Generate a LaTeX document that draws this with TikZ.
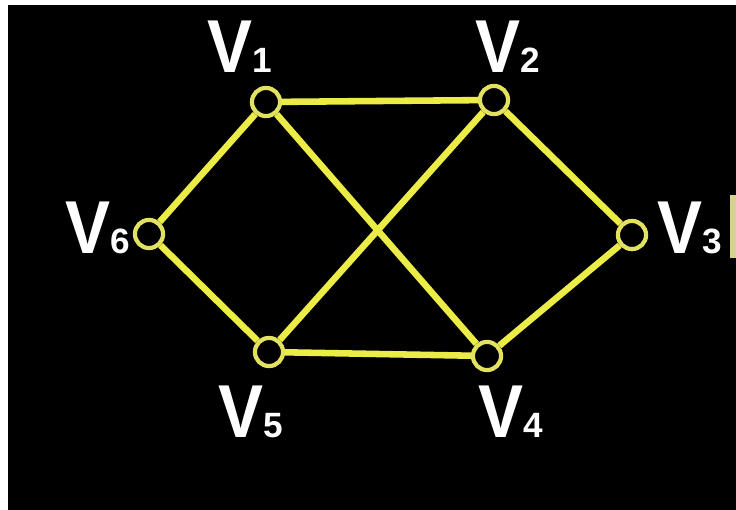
\documentclass[tikz,border=0pt]{standalone}
\usepackage{fontspec}
\setmainfont{Liberation Sans}
\usepackage{xcolor}
\usetikzlibrary{positioning}

\definecolor{edgeyellow}{RGB}{236,236,70}
\definecolor{ringyellow}{RGB}{226,226,96}
\definecolor{paleyellow}{RGB}{214,212,140}

\newcommand{\vlabel}[1]{\scalebox{0.9}[1]{\fontsize{64}{64}\selectfont\bfseries V}{\fontsize{30}{30}\selectfont\bfseries #1}}

\tikzset{
  vtx/.style={circle, draw=ringyellow, line width=3.6pt, minimum size=24pt, inner sep=0pt},
  edge/.style={draw=edgeyellow, line width=5.6pt},
  vname/.style={text=white, anchor=base west, inner sep=0pt}
}

\begin{document}
\begin{tikzpicture}[x=0.03cm, y=-0.03cm]
    % 背景
    \useasboundingbox (0,0) rectangle (736,510);
    \fill[white] (0,0) rectangle (736,510);
    \fill[black] (8,5) rectangle (736,510);
    \fill[paleyellow] (730,195) rectangle (736,258);

    % 顶点
    \node[vtx] (v1) at (266,102) {};
    \node[vtx] (v2) at (494,100) {};
    \node[vtx] (v3) at (632,235) {};
    \node[vtx] (v4) at (487,356) {};
    \node[vtx] (v5) at (269,352) {};
    \node[vtx] (v6) at (149,234) {};

    % 边
    \draw[edge] (v1) -- (v2);
    \draw[edge] (v2) -- (v3);
    \draw[edge] (v3) -- (v4);
    \draw[edge] (v4) -- (v5);
    \draw[edge] (v5) -- (v6);
    \draw[edge] (v6) -- (v1);
    \draw[edge] (v1) -- (v4);
    \draw[edge] (v2) -- (v5);

    % 标签
    \node[vname] (l1) at (207,73) {\vlabel{1}};
    \node[vname] (l2) at (475,73) {\vlabel{2}};
    \node[vname] (l3) at (657,253) {\vlabel{3}};
    \node[vname] (l4) at (478,437) {\vlabel{4}};
    \node[vname] (l5) at (218,437) {\vlabel{5}};
    \node[vname] (l6) at (65,253) {\vlabel{6}};
\end{tikzpicture}
\end{document}
